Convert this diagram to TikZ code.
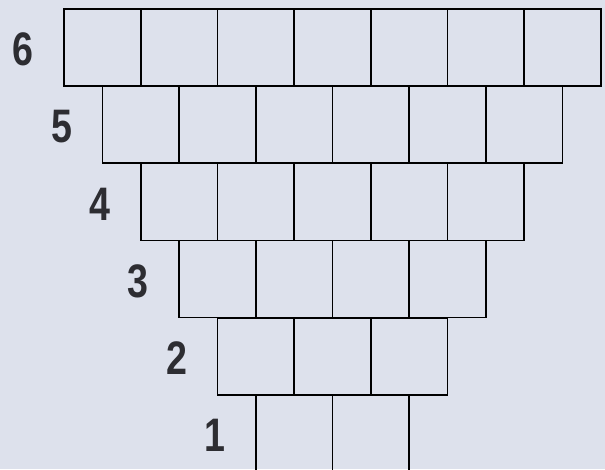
\documentclass[tikz,border=0pt]{standalone}
\usepackage{fontspec}
\setmainfont{Liberation Sans}
\usetikzlibrary{positioning}
\definecolor{paperBlue}{RGB}{221, 225, 236}
\definecolor{digitGray}{RGB}{45, 45, 50}

\newcommand{\narrowdigit}[1]{\scalebox{0.8}[1]{#1}}

\begin{document}
\begin{tikzpicture}[
  x=1pt, y=-1pt,
  node distance=30pt,
  cell/.style={draw, line width=1.7pt, minimum width=76.7pt, minimum height=77pt,
               inner sep=0pt, outer sep=0pt},
  rowlabel/.style={inner sep=0pt, text=digitGray,
                   font=\bfseries\fontsize{47}{47}\selectfont}
]
\path[use as bounding box, fill=paperBlue] (0,0) rectangle (605,469);
\clip (0,0) rectangle (605,469);
\foreach \r in {1,...,6} {
  % first cell of each row, then the rest to its right
  \node[cell, anchor=north west] (c\r-1) at ({64+(6-\r)*38.35}, {9+(6-\r)*77.2}) {};
  \pgfmathtruncatemacro\last{\r+1}
  \foreach \c in {2,...,\last} {
    \pgfmathtruncatemacro\prev{\c-1}
    \node[cell, right=0pt of c\r-\prev] (c\r-\c) {};
  }
  \node[rowlabel, left=of c\r-1, yshift=-2pt] (lab\r) {\narrowdigit{\r}};
}
\end{tikzpicture}
\end{document}
